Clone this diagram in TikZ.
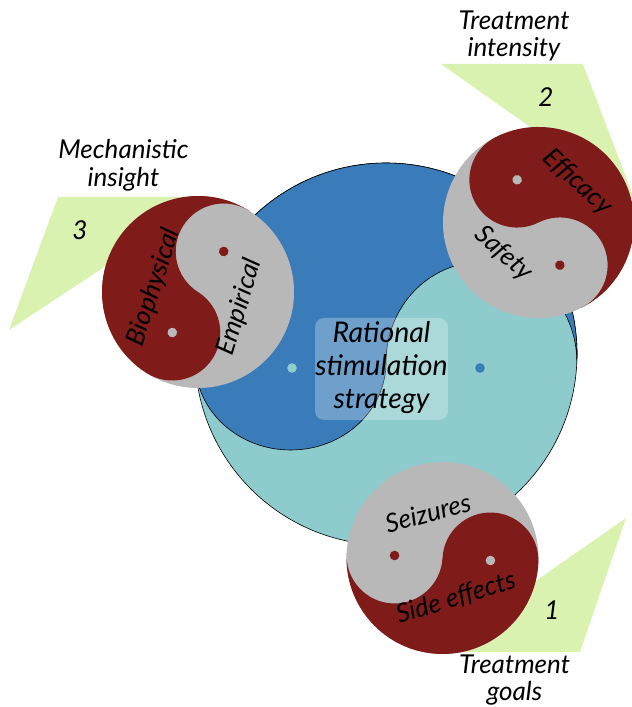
\documentclass[tikz,border=0pt]{standalone}
\usepackage{fontspec}
\setmainfont{Lato}
\definecolor{yred}{RGB}{127,27,24}
\definecolor{ygray}{RGB}{184,184,184}
\definecolor{bblue}{RGB}{58,124,185}
\definecolor{bteal}{RGB}{141,203,204}
\definecolor{lgreen}{RGB}{218,242,176}
\newcommand\drawyinyang[4]{%
  \begin{scope}[shift={(#1,#2)},rotate=#4]
    \fill[ygray] (0,0) circle[radius=#3];
    \fill[yred] (#3,0) arc[start angle=0,end angle=180,radius=#3]
      arc[start angle=180,end angle=360,radius=#3/2]
      arc[start angle=180,end angle=0,radius=#3/2] -- cycle;
    \fill[yred] (#3/2,0) circle[radius=4.8];
    \fill[ygray] (-#3/2,0) circle[radius=4.8];
  \end{scope}}
\begin{document}
\begin{tikzpicture}[x=1pt,y=1pt,
  lbl/.style={font=\fontsize{26}{30}\selectfont\itshape, text=black, inner sep=0pt},
  clbl/.style={font=\fontsize{28.5}{33}\selectfont\itshape, text=black, inner sep=0pt},
  flag/.style={fill=lgreen},
  outl/.style={draw=black, line width=0.6pt}]
\useasboundingbox (0,0) rectangle (632,707);

% green flags
\fill[flag] (58,510) -- (210,510) -- (9,377) -- cycle;
\fill[flag] (441,643) -- (583,643) -- (635,506) -- cycle;
\fill[flag] (626,189) -- (580,55) -- (434,55) -- cycle;

% big yin-yang
\filldraw[fill=bteal, outl] (386,353) circle[radius=191];
\filldraw[fill=bblue, outl] (195.2,345) arc[start angle=182.4,end angle=-2.4,radius=191]
  arc[start angle=0,end angle=180,x radius=95.4,y radius=100]
  arc[start angle=0,end angle=-180,x radius=95.4,y radius=88] -- cycle;
\fill[bteal] (292,339) circle[radius=4.8];
\fill[bblue] (480,339) circle[radius=4.8];
\fill[white, opacity=0.27, rounded corners=9pt] (315,389) rectangle (448,287);
\node[clbl, anchor=base] (r1) at (381.5,364.3) {Rational};
\node[clbl, anchor=base] (r2) at (381.5,331) {stimulation};
\node[clbl, anchor=base] (r3) at (381.5,298) {strategy};

% small yin-yangs
\drawyinyang{198}{415}{96}{57.6}
\drawyinyang{538.5}{484.5}{95.5}{-63.4}
\drawyinyang{442.5}{149}{96}{177}

\node[lbl, rotate=72] (bio) at (154,420) {Biophysical};
\node[lbl, rotate=73] (emp) at (240,400) {Empirical};
\node[lbl, rotate=-43] (eff) at (577.5,524.5) {Efficacy};
\node[lbl, rotate=-42] (saf) at (503.5,453) {Safety};
\node[lbl, rotate=15] (sei) at (428,194) {Seizures};
\node[lbl, rotate=17] (sid) at (456,109) {Side effects};

% numbers
\node[lbl] (n3) at (80,477) {3};
\node[lbl] (n2) at (546,610) {2};
\node[lbl] (n1) at (552,97) {1};

% titles
\node[lbl, anchor=base] (t2a) at (514,707-29.5) {Treatment};
\node[lbl, anchor=base] (t2b) at (514,707-57) {intensity};
\node[lbl, anchor=base] (t3a) at (123.5,707-159) {Mechanistic};
\node[lbl, anchor=base] (t3b) at (123.5,707-187) {insight};
\node[lbl, anchor=base] (t1a) at (514.5,707-673) {Treatment};
\node[lbl, anchor=base] (t1b) at (514.5,707-701) {goals};
\end{tikzpicture}
\end{document}
